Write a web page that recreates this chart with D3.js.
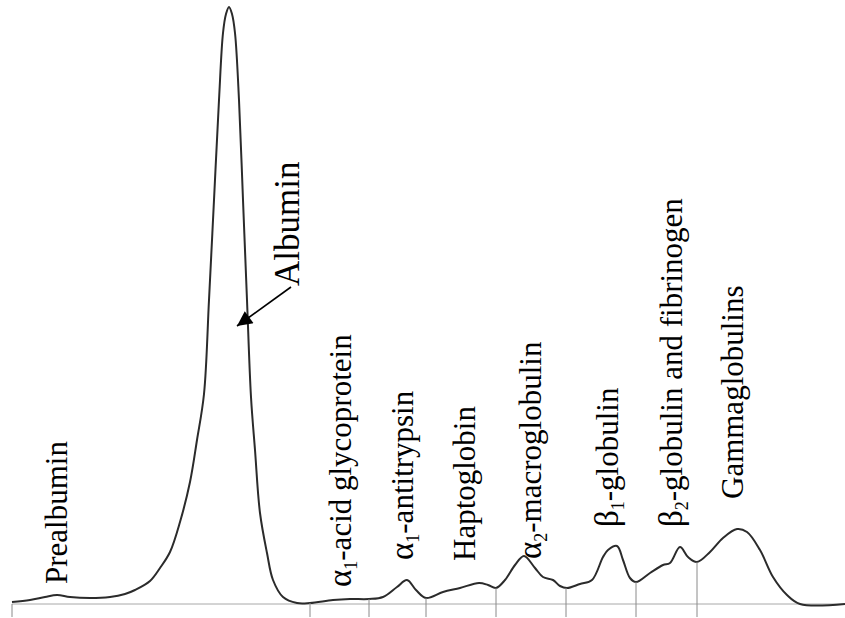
<!DOCTYPE html>
<html>
<head>
<meta charset="utf-8">
<script src="https://cdn.jsdelivr.net/npm/d3@7"></script>
<style>
  html, body { margin: 0; padding: 0; background: #fff; }
  svg { display: block; }
  .trace { fill: none; stroke: #2b2b2b; stroke-width: 2; }
  .base { stroke: #a8a8a8; stroke-width: 1; }
  .bound { stroke: #8a8a8a; stroke-width: 1; }
  .lbl { font-family: "Liberation Serif", "Times New Roman", serif; font-size: 31px; fill: #000; }
  .lbl.big { font-size: 35px; }
</style>
</head>
<body>
<div id="chart"></div>
<script>
// Densitometria de proteínas séricas: distância de migração x densidade óptica
const migration = [0, 18, 33, 45, 58, 78, 98, 113, 123, 138, 148, 158, 168, 178, 185, 192, 197, 202, 207, 211, 214, 217, 220, 223, 227, 231, 235, 239, 243, 248, 255, 261, 271, 285, 298, 321, 338, 357, 371, 385, 395, 404, 414, 431, 448, 467, 476, 484, 493, 503, 512, 523, 531, 541, 548, 555, 568, 580, 591, 596, 605, 611, 618, 624, 638, 651, 658, 668, 676, 685, 698, 711, 725, 735, 748, 761, 775, 788, 833];
const density   = [2, 4, 7, 9, 7, 6, 7, 10, 14, 23, 36, 52, 82, 122, 164, 210, 304, 404, 504, 571, 590, 597, 590, 571, 504, 404, 304, 207, 154, 91, 51, 24, 7, 1, 1, 4, 5, 5, 7, 17, 24, 14, 6, 12, 16, 21, 19, 16, 24, 39, 48, 36, 27, 24, 18, 16, 20, 24, 47, 54, 58, 44, 26, 22, 31, 39, 41, 57, 47, 42, 52, 66, 75, 72, 54, 27, 9, 0, 0];

// Limites entre frações (linhas verticais)
const fractionBounds = [0, 298, 357, 414, 484, 554, 624, 685];

// Rótulos das frações
const labelGreek = ["", "", "α", "α", "", "α", "β", "β", ""];
const labelSub   = ["", "", "1", "1", "", "2", "1", "2", ""];
const labelRest  = ["Prealbumin", "Albumin", "-acid glycoprotein", "-antitrypsin", "Haptoglobin", "-macroglobulin", "-globulin", "-globulin and fibrinogen", "Gammaglobulins"];
const labelX     = [55, 287, 339, 401, 463, 529, 606, 670, 731];
const labelY     = [20, 318, 17, 44, 43, 45, 77, 77, 105];

// Seta da albumina (de -> para)
const arrowFrom = [279, 317];
const arrowTo   = [225, 278];

const W = 845, H = 618;
const svg = d3.select("#chart").append("svg")
    .attr("width", W)
    .attr("height", H);

const x = d3.scaleLinear().domain([0, 833]).range([12, 845]);
const y = d3.scaleLinear().domain([0, 600]).range([604, 4]);

const pts = migration.map((m, i) => [m, density[i]]);

// Linha de base
svg.append("line")
    .attr("class", "base")
    .attr("x1", x(0)).attr("x2", x(833))
    .attr("y1", y(0)).attr("y2", y(0));

// Curva
const line = d3.line()
    .x(d => x(d[0]))
    .y(d => y(d[1]))
    .curve(d3.curveCatmullRom.alpha(0.5));

const path = svg.append("path")
    .datum(pts)
    .attr("class", "trace")
    .attr("d", line);

// acha o y da curva para um dado x (busca binária no path)
const node = path.node();
const total = node.getTotalLength();
function curveYAt(px) {
    let lo = 0, hi = total;
    for (let k = 0; k < 40; k++) {
        const mid = (lo + hi) / 2;
        if (node.getPointAtLength(mid).x < px) lo = mid; else hi = mid;
    }
    return node.getPointAtLength(lo).y;
}

// Limites das frações
const tickLen = 13;
svg.append("g")
    .selectAll("line")
    .data(fractionBounds)
    .join("line")
    .attr("class", "bound")
    .attr("x1", d => x(d)).attr("x2", d => x(d))
    .attr("y1", d => d === 0 ? y(0) : curveYAt(x(d)))
    .attr("y2", y(0) + tickLen);

// Seta
svg.append("defs").append("marker")
    .attr("id", "head")
    .attr("viewBox", "0 0 10 10")
    .attr("refX", 10).attr("refY", 5)
    .attr("markerWidth", 21).attr("markerHeight", 15)
    .attr("markerUnits", "userSpaceOnUse")
    .attr("orient", "auto")
    .append("path")
    .attr("d", "M0,0 L10,5 L0,10 Z")
    .attr("fill", "#000");

svg.append("line")
    .attr("x1", x(arrowFrom[0])).attr("y1", y(arrowFrom[1]))
    .attr("x2", x(arrowTo[0])).attr("y2", y(arrowTo[1]))
    .attr("stroke", "#000")
    .attr("stroke-width", 1.6)
    .attr("marker-end", "url(#head)");

// Rótulos
const labels = svg.append("g")
    .selectAll("text")
    .data(labelRest.map((r, i) => ({ greek: labelGreek[i], sub: labelSub[i], rest: r, lx: labelX[i], ly: labelY[i] })))
    .join("text")
    .attr("class", d => d.rest === "Albumin" ? "lbl big" : "lbl")
    .attr("transform", d => `translate(${x(d.lx)},${y(d.ly)}) rotate(-90)`);

labels.each(function(d) {
    const t = d3.select(this);
    if (d.greek) {
        t.append("tspan").attr("font-size", 33).text(d.greek);
        t.append("tspan").attr("font-size", 18).attr("dy", 6).text(d.sub);
        t.append("tspan").attr("dy", -6).text(d.rest);
    } else {
        t.text(d.rest);
    }
});
</script>
</body>
</html>
